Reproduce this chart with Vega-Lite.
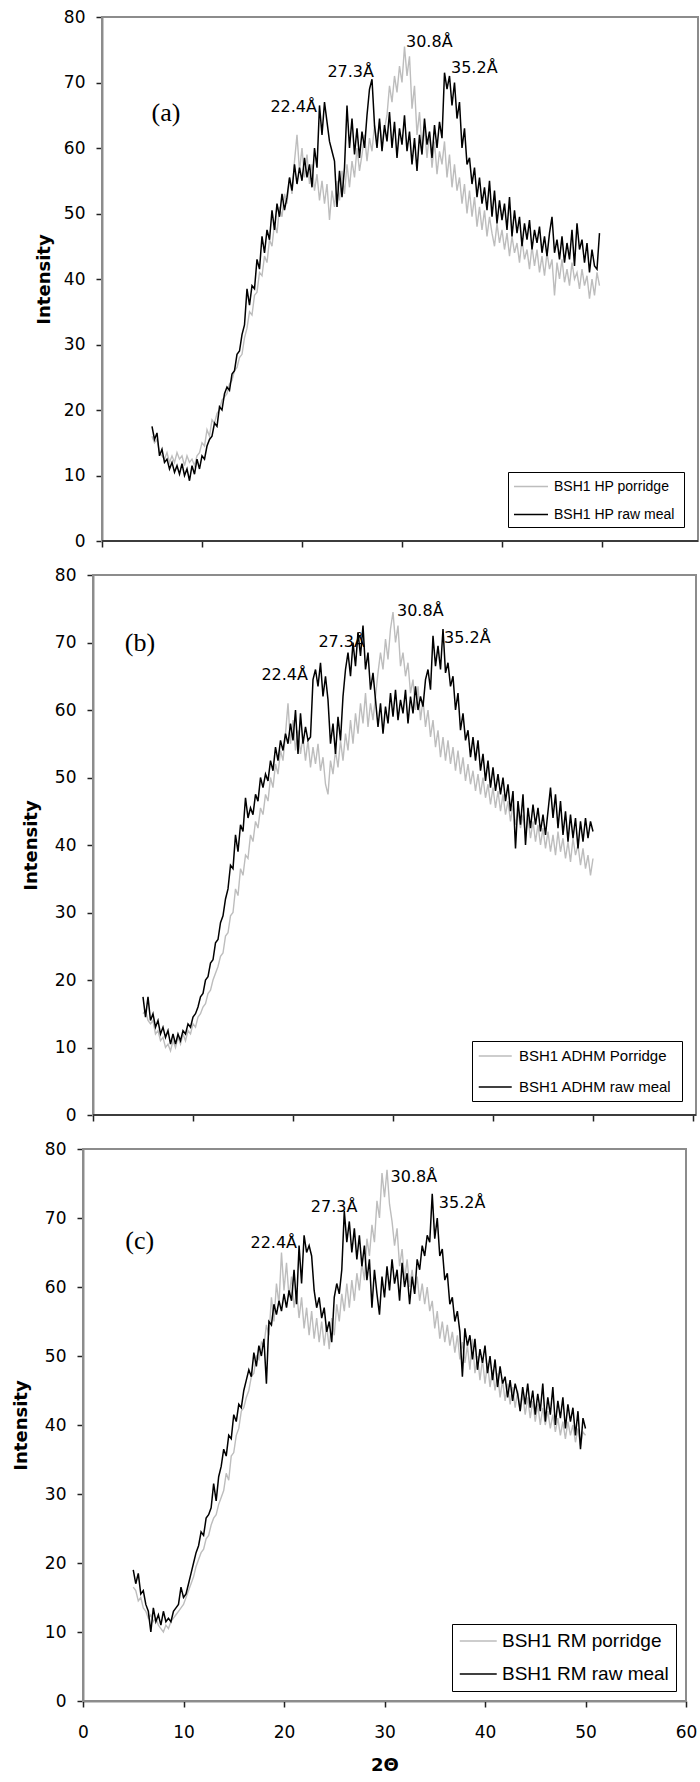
{
"$schema": "https://vega.github.io/schema/vega-lite/v6.json",
"background": "white",
"padding": {"left": 12, "top": 8, "right": 0, "bottom": 0},
"bounds": "flush",
"spacing": 34,
"resolve": {"scale": {"color": "independent", "x": "independent", "y": "independent"}, "legend": {"color": "independent"}},
"config": {
 "view": {"stroke": null},
 "axis": {"grid": false, "labelFont": "DejaVu Sans", "labelFontSize": 17, "labelColor": "#000", "tickColor": "#222", "tickWidth": 1.5, "tickSize": 6, "domainColor": "#222", "domainWidth": 1.5, "titleFont": "DejaVu Sans", "titleFontSize": 18, "titleFontWeight": "bold", "titleColor": "#000", "zindex": 1},
 "axisY": {"labelPadding": 11, "titlePadding": 14},
 "axisX": {"labelPadding": 17, "titlePadding": 16, "labelFlush": false}
},
"datasets": {
"a": [
{"x":5,"p":16,"r":17.5},{"x":5.25,"p":15,"r":15.5},{"x":5.5,"p":15.5,"r":16.5},{"x":5.75,"p":13.5,"r":13},{"x":6,"p":13,"r":14},{"x":6.25,"p":12.5,"r":12},{"x":6.5,"p":13.5,"r":12.5},{"x":6.75,"p":12,"r":11},{"x":7,"p":13,"r":12},{"x":7.25,"p":12,"r":10.5},{"x":7.5,"p":13.5,"r":11.5},{"x":7.75,"p":12.5,"r":10.2},{"x":8,"p":13,"r":11.8},{"x":8.25,"p":11.5,"r":10},{"x":8.5,"p":13,"r":11},{"x":8.75,"p":12,"r":9.2},{"x":9,"p":12.5,"r":11.5},{"x":9.25,"p":11.5,"r":10.2},{"x":9.5,"p":13,"r":12.5},{"x":9.75,"p":13.5,"r":11},
{"x":10,"p":15,"r":13},{"x":10.25,"p":14.5,"r":12.5},{"x":10.5,"p":17,"r":14.5},{"x":10.75,"p":16,"r":15.5},{"x":11,"p":18.5,"r":16},{"x":11.25,"p":18,"r":18},{"x":11.5,"p":19.5,"r":17.5},{"x":11.75,"p":20,"r":20.5},{"x":12,"p":21.5,"r":20},{"x":12.25,"p":22,"r":22.5},{"x":12.5,"p":22.5,"r":23.5},{"x":12.75,"p":24,"r":23},{"x":13,"p":24.5,"r":25.5},{"x":13.25,"p":26,"r":26},{"x":13.5,"p":26.5,"r":28.5},{"x":13.75,"p":28,"r":29},{"x":14,"p":28.5,"r":31.5},{"x":14.25,"p":31,"r":33},{"x":14.5,"p":32.5,"r":38.5},{"x":14.75,"p":35,"r":36},
{"x":15,"p":34.5,"r":39},{"x":15.25,"p":37.5,"r":38.5},{"x":15.5,"p":38,"r":43},{"x":15.75,"p":41,"r":41.5},{"x":16,"p":40.5,"r":46.5},{"x":16.25,"p":43.5,"r":44},{"x":16.5,"p":42.5,"r":47.5},{"x":16.75,"p":46,"r":46},{"x":17,"p":45,"r":50.5},{"x":17.25,"p":48.5,"r":47.5},{"x":17.5,"p":47,"r":51.5},{"x":17.75,"p":51,"r":49.5},{"x":18,"p":49.5,"r":53},{"x":18.25,"p":53,"r":50.5},{"x":18.5,"p":51.5,"r":52.5},{"x":18.75,"p":55.5,"r":55.5},{"x":19,"p":53,"r":53.5},{"x":19.25,"p":58,"r":57.5},{"x":19.5,"p":62,"r":54.5},{"x":19.75,"p":56.5,"r":57},
{"x":20,"p":60,"r":55},{"x":20.25,"p":55.5,"r":58.5},{"x":20.5,"p":59,"r":55.5},{"x":20.75,"p":54.5,"r":57.5},{"x":21,"p":57.5,"r":54},{"x":21.25,"p":53.5,"r":60},{"x":21.5,"p":56,"r":57},{"x":21.75,"p":52,"r":66.5},{"x":22,"p":55,"r":62},{"x":22.25,"p":51.5,"r":67},{"x":22.5,"p":54.5,"r":64},{"x":22.75,"p":49,"r":61},{"x":23,"p":53.5,"r":59.5},{"x":23.25,"p":51,"r":58},{"x":23.5,"p":55,"r":51},{"x":23.75,"p":52,"r":56.5},{"x":24,"p":56.5,"r":52.5},{"x":24.25,"p":53,"r":57},{"x":24.5,"p":57.5,"r":66.5},{"x":24.75,"p":54,"r":60},
{"x":25,"p":58,"r":64.5},{"x":25.25,"p":55.5,"r":59},{"x":25.5,"p":60,"r":63},{"x":25.75,"p":56.5,"r":58.5},{"x":26,"p":59,"r":62.5},{"x":26.25,"p":62,"r":60},{"x":26.5,"p":58,"r":65},{"x":26.75,"p":61.5,"r":69},{"x":27,"p":59.5,"r":70.5},{"x":27.25,"p":63.5,"r":63.5},{"x":27.5,"p":61,"r":60},{"x":27.75,"p":64,"r":64.5},{"x":28,"p":60.5,"r":59.5},{"x":28.25,"p":63,"r":63.5},{"x":28.5,"p":65,"r":61},{"x":28.75,"p":69.5,"r":65.5},{"x":29,"p":67,"r":60},{"x":29.25,"p":71,"r":64},{"x":29.5,"p":68.5,"r":58.5},{"x":29.75,"p":72.5,"r":63},
{"x":30,"p":70,"r":60.5},{"x":30.25,"p":75.5,"r":65},{"x":30.5,"p":71,"r":59.5},{"x":30.75,"p":74,"r":62.5},{"x":31,"p":66,"r":57.5},{"x":31.25,"p":69.5,"r":61.5},{"x":31.5,"p":62,"r":56.5},{"x":31.75,"p":65.5,"r":62},{"x":32,"p":60,"r":59},{"x":32.25,"p":63,"r":64.5},{"x":32.5,"p":58.5,"r":60.5},{"x":32.75,"p":62.5,"r":62.5},{"x":33,"p":57,"r":58.5},{"x":33.25,"p":61,"r":63.5},{"x":33.5,"p":56,"r":60},{"x":33.75,"p":59.5,"r":64},{"x":34,"p":57.5,"r":61.5},{"x":34.25,"p":61,"r":71.5},{"x":34.5,"p":55.5,"r":69},{"x":34.75,"p":59,"r":71},
{"x":35,"p":54,"r":66.5},{"x":35.25,"p":57.5,"r":70},{"x":35.5,"p":53.5,"r":64.5},{"x":35.75,"p":55.5,"r":67},{"x":36,"p":51.5,"r":60},{"x":36.25,"p":54.5,"r":63},{"x":36.5,"p":50,"r":57.5},{"x":36.75,"p":53.5,"r":58.5},{"x":37,"p":49.5,"r":54.5},{"x":37.25,"p":52.5,"r":57},{"x":37.5,"p":48,"r":52.5},{"x":37.75,"p":51,"r":55.5},{"x":38,"p":47.5,"r":51.5},{"x":38.25,"p":50.5,"r":54},{"x":38.5,"p":46.5,"r":50.5},{"x":38.75,"p":49.5,"r":55},{"x":39,"p":47,"r":49.5},{"x":39.25,"p":45,"r":53.5},{"x":39.5,"p":48.5,"r":48.5},{"x":39.75,"p":45.5,"r":52},
{"x":40,"p":47.5,"r":49},{"x":40.25,"p":44.5,"r":51.5},{"x":40.5,"p":47,"r":47.5},{"x":40.75,"p":43.5,"r":52.5},{"x":41,"p":46.5,"r":46.5},{"x":41.25,"p":44,"r":50.5},{"x":41.5,"p":45.5,"r":47},{"x":41.75,"p":42.5,"r":49.5},{"x":42,"p":46,"r":45},{"x":42.25,"p":43,"r":48.5},{"x":42.5,"p":44.5,"r":46},{"x":42.75,"p":41.5,"r":49},{"x":43,"p":45,"r":44.5},{"x":43.25,"p":42,"r":47.5},{"x":43.5,"p":44.5,"r":45.5},{"x":43.75,"p":41,"r":48},{"x":44,"p":43.5,"r":44},{"x":44.25,"p":40.5,"r":46.5},{"x":44.5,"p":44,"r":43.5},{"x":44.75,"p":41.5,"r":47},
{"x":45,"p":43,"r":49.5},{"x":45.25,"p":37.5,"r":44},{"x":45.5,"p":42.5,"r":46},{"x":45.75,"p":40,"r":43},{"x":46,"p":43,"r":46.5},{"x":46.25,"p":39.5,"r":42.5},{"x":46.5,"p":41.5,"r":45.5},{"x":46.75,"p":39,"r":43},{"x":47,"p":42.5,"r":47.5},{"x":47.25,"p":40,"r":42},{"x":47.5,"p":41,"r":48.5},{"x":47.75,"p":38.5,"r":44.5},{"x":48,"p":41.5,"r":46},{"x":48.25,"p":39,"r":42.5},{"x":48.5,"p":40.5,"r":45.5},{"x":48.75,"p":37,"r":41},{"x":49,"p":40,"r":44.5},{"x":49.25,"p":37.5,"r":42},{"x":49.5,"p":41,"r":41.5},{"x":49.75,"p":39,"r":47}
],
"b": [
{"x":5,"p":15,"r":17.5},{"x":5.25,"p":15.5,"r":14.5},{"x":5.5,"p":14,"r":17.5},{"x":5.75,"p":13.5,"r":14},{"x":6,"p":14,"r":15},{"x":6.25,"p":12,"r":13},{"x":6.5,"p":12.5,"r":14},{"x":6.75,"p":11,"r":12},{"x":7,"p":11.5,"r":13},{"x":7.25,"p":10,"r":11.5},{"x":7.5,"p":10.5,"r":12.5},{"x":7.75,"p":9.5,"r":10.5},{"x":8,"p":11,"r":12},{"x":8.25,"p":10,"r":10.5},{"x":8.5,"p":11.5,"r":12},{"x":8.75,"p":10.5,"r":11},{"x":9,"p":12,"r":12.5},{"x":9.25,"p":11,"r":12},{"x":9.5,"p":12.5,"r":13.5},{"x":9.75,"p":12,"r":13},
{"x":10,"p":13.5,"r":14.5},{"x":10.25,"p":13,"r":15},{"x":10.5,"p":14.5,"r":16},{"x":10.75,"p":15,"r":17.5},{"x":11,"p":16,"r":18},{"x":11.25,"p":16.5,"r":20},{"x":11.5,"p":18,"r":20.5},{"x":11.75,"p":18.5,"r":22.5},{"x":12,"p":20,"r":23},{"x":12.25,"p":21,"r":25.5},{"x":12.5,"p":22,"r":26},{"x":12.75,"p":23.5,"r":28.5},{"x":13,"p":24,"r":29.5},{"x":13.25,"p":26.5,"r":32},{"x":13.5,"p":27,"r":33.5},{"x":13.75,"p":29.5,"r":37},{"x":14,"p":30,"r":36.5},{"x":14.25,"p":33.5,"r":41.5},{"x":14.5,"p":32.5,"r":39},{"x":14.75,"p":36.5,"r":43},
{"x":15,"p":35.5,"r":42},{"x":15.25,"p":38.5,"r":47},{"x":15.5,"p":38,"r":44},{"x":15.75,"p":41.5,"r":45.5},{"x":16,"p":40.5,"r":44.5},{"x":16.25,"p":43.5,"r":47.5},{"x":16.5,"p":42.5,"r":46.5},{"x":16.75,"p":45.5,"r":50},{"x":17,"p":44.5,"r":48.5},{"x":17.25,"p":47.5,"r":50.5},{"x":17.5,"p":46.5,"r":49.5},{"x":17.75,"p":50,"r":52.5},{"x":18,"p":48.5,"r":51},{"x":18.25,"p":52,"r":54.5},{"x":18.5,"p":50.5,"r":52.5},{"x":18.75,"p":54,"r":55.5},{"x":19,"p":52.5,"r":54},{"x":19.25,"p":56.5,"r":56.5},{"x":19.5,"p":61,"r":55},{"x":19.75,"p":55,"r":58},
{"x":20,"p":58.5,"r":55.5},{"x":20.25,"p":54,"r":60},{"x":20.5,"p":57,"r":53.5},{"x":20.75,"p":53.5,"r":59.5},{"x":21,"p":56,"r":55},{"x":21.25,"p":52.5,"r":57.5},{"x":21.5,"p":55.5,"r":55.5},{"x":21.75,"p":51.5,"r":56},{"x":22,"p":54.5,"r":64.5},{"x":22.25,"p":52,"r":66},{"x":22.5,"p":55,"r":63.5},{"x":22.75,"p":51,"r":67},{"x":23,"p":53,"r":62},{"x":23.25,"p":49,"r":65},{"x":23.5,"p":47.5,"r":61.5},{"x":23.75,"p":52.5,"r":55},{"x":24,"p":50.5,"r":58},{"x":24.25,"p":54,"r":53.5},{"x":24.5,"p":51.5,"r":59},{"x":24.75,"p":55.5,"r":55.5},
{"x":25,"p":52.5,"r":62},{"x":25.25,"p":56.5,"r":66},{"x":25.5,"p":54,"r":68.5},{"x":25.75,"p":58.5,"r":65},{"x":26,"p":55,"r":70},{"x":26.25,"p":59.5,"r":66.5},{"x":26.5,"p":56.5,"r":71.5},{"x":26.75,"p":61,"r":68},{"x":27,"p":58,"r":72.5},{"x":27.25,"p":62.5,"r":66},{"x":27.5,"p":57.5,"r":68.5},{"x":27.75,"p":61,"r":63},{"x":28,"p":58.5,"r":65.5},{"x":28.25,"p":62,"r":61.5},{"x":28.5,"p":65.5,"r":57.5},{"x":28.75,"p":68.5,"r":61},{"x":29,"p":66,"r":56.5},{"x":29.25,"p":70.5,"r":60.5},{"x":29.5,"p":67.5,"r":58},{"x":29.75,"p":72,"r":62.5},
{"x":30,"p":74.5,"r":59},{"x":30.25,"p":70,"r":63},{"x":30.5,"p":72.5,"r":58.5},{"x":30.75,"p":66.5,"r":61.5},{"x":31,"p":68.5,"r":59.5},{"x":31.25,"p":65,"r":63},{"x":31.5,"p":67,"r":58},{"x":31.75,"p":62.5,"r":62},{"x":32,"p":64.5,"r":59.5},{"x":32.25,"p":60,"r":63.5},{"x":32.5,"p":63.5,"r":60},{"x":32.75,"p":58.5,"r":62},{"x":33,"p":61.5,"r":60.5},{"x":33.25,"p":57.5,"r":64.5},{"x":33.5,"p":60,"r":66},{"x":33.75,"p":56,"r":63},{"x":34,"p":58.5,"r":71},{"x":34.25,"p":54.5,"r":66.5},{"x":34.5,"p":57,"r":69.5},{"x":34.75,"p":53,"r":66},
{"x":35,"p":56,"r":72},{"x":35.25,"p":52.5,"r":65.5},{"x":35.5,"p":55.5,"r":67},{"x":35.75,"p":52,"r":63.5},{"x":36,"p":54.5,"r":65},{"x":36.25,"p":51,"r":60},{"x":36.5,"p":54,"r":62.5},{"x":36.75,"p":50.5,"r":57},{"x":37,"p":53,"r":59.5},{"x":37.25,"p":49.5,"r":55.5},{"x":37.5,"p":52,"r":57},{"x":37.75,"p":49,"r":53},{"x":38,"p":51,"r":56},{"x":38.25,"p":48,"r":52.5},{"x":38.5,"p":50.5,"r":55.5},{"x":38.75,"p":47.5,"r":51},{"x":39,"p":50,"r":53.5},{"x":39.25,"p":47,"r":49.5},{"x":39.5,"p":49,"r":52.5},{"x":39.75,"p":46,"r":48.5},
{"x":40,"p":48.5,"r":51.5},{"x":40.25,"p":45.5,"r":48},{"x":40.5,"p":48,"r":50.5},{"x":40.75,"p":45,"r":47.5},{"x":41,"p":47.5,"r":50},{"x":41.25,"p":44.5,"r":46.5},{"x":41.5,"p":46.5,"r":49},{"x":41.75,"p":43.5,"r":45},{"x":42,"p":46,"r":48},{"x":42.25,"p":43,"r":39.5},{"x":42.5,"p":45,"r":46.5},{"x":42.75,"p":42.5,"r":43},{"x":43,"p":44.5,"r":47.5},{"x":43.25,"p":41.5,"r":40},{"x":43.5,"p":44,"r":45.5},{"x":43.75,"p":41,"r":42.5},{"x":44,"p":43.5,"r":46},{"x":44.25,"p":40.5,"r":43},{"x":44.5,"p":43,"r":45.5},{"x":44.75,"p":40,"r":42},
{"x":45,"p":42.5,"r":44.5},{"x":45.25,"p":39.5,"r":41.5},{"x":45.5,"p":42,"r":45},{"x":45.75,"p":39,"r":48.5},{"x":46,"p":41.5,"r":44},{"x":46.25,"p":38.5,"r":47.5},{"x":46.5,"p":42,"r":42.5},{"x":46.75,"p":39,"r":46.5},{"x":47,"p":41,"r":41.5},{"x":47.25,"p":38,"r":45},{"x":47.5,"p":40.5,"r":40.5},{"x":47.75,"p":37.5,"r":44.5},{"x":48,"p":41,"r":41},{"x":48.25,"p":38.5,"r":44},{"x":48.5,"p":40,"r":39.5},{"x":48.75,"p":37,"r":43.5},{"x":49,"p":39.5,"r":40.5},{"x":49.25,"p":36.5,"r":44},{"x":49.5,"p":38.5,"r":41},{"x":49.75,"p":35.5,"r":43.5},{"x":50,"p":38,"r":42}
],
"c": [
{"x":5,"p":16.5,"r":19},{"x":5.25,"p":16,"r":17},{"x":5.5,"p":14.5,"r":18.5},{"x":5.75,"p":15,"r":15.5},{"x":6,"p":13.5,"r":16},{"x":6.25,"p":13,"r":14},{"x":6.5,"p":12,"r":13},{"x":6.75,"p":12.5,"r":10},{"x":7,"p":11.5,"r":13.5},{"x":7.25,"p":12,"r":11.5},{"x":7.5,"p":11,"r":12.5},{"x":7.75,"p":10.5,"r":11},{"x":8,"p":10,"r":13},{"x":8.25,"p":11,"r":11.5},{"x":8.5,"p":10.5,"r":12},{"x":8.75,"p":11.5,"r":11.5},{"x":9,"p":12,"r":13},{"x":9.25,"p":12.5,"r":13.5},{"x":9.5,"p":13,"r":14},{"x":9.75,"p":13.5,"r":16.5},
{"x":10,"p":14,"r":15},{"x":10.25,"p":15,"r":15.5},{"x":10.5,"p":16,"r":17},{"x":10.75,"p":17,"r":18.5},{"x":11,"p":18,"r":20},{"x":11.25,"p":19.5,"r":21.5},{"x":11.5,"p":20.5,"r":22.5},{"x":11.75,"p":21.5,"r":24.5},{"x":12,"p":22,"r":24},{"x":12.25,"p":23.5,"r":26.5},{"x":12.5,"p":24,"r":27},{"x":12.75,"p":25.5,"r":28},{"x":13,"p":26.5,"r":31.5},{"x":13.25,"p":27,"r":29},{"x":13.5,"p":28.5,"r":32.5},{"x":13.75,"p":29.5,"r":34},{"x":14,"p":30.5,"r":36.5},{"x":14.25,"p":33,"r":35.5},{"x":14.5,"p":32,"r":38.5},{"x":14.75,"p":35.5,"r":38},
{"x":15,"p":36,"r":41.5},{"x":15.25,"p":38.5,"r":40.5},{"x":15.5,"p":39.5,"r":43},{"x":15.75,"p":42,"r":42.5},{"x":16,"p":42.5,"r":45},{"x":16.25,"p":44,"r":46.5},{"x":16.5,"p":45,"r":48},{"x":16.75,"p":47,"r":47},{"x":17,"p":47.5,"r":50.5},{"x":17.25,"p":50,"r":48.5},{"x":17.5,"p":49.5,"r":51.5},{"x":17.75,"p":52,"r":50},{"x":18,"p":51.5,"r":52.5},{"x":18.25,"p":54.5,"r":46},{"x":18.5,"p":53,"r":55},{"x":18.75,"p":58.5,"r":54.5},{"x":19,"p":55,"r":57.5},{"x":19.25,"p":60.5,"r":56},{"x":19.5,"p":57.5,"r":58},{"x":19.75,"p":65,"r":56.5},
{"x":20,"p":59.5,"r":59},{"x":20.25,"p":63.5,"r":57},{"x":20.5,"p":58.5,"r":59.5},{"x":20.75,"p":61.5,"r":58},{"x":21,"p":57,"r":62.5},{"x":21.25,"p":59.5,"r":57.5},{"x":21.5,"p":55.5,"r":66},{"x":21.75,"p":58.5,"r":60.5},{"x":22,"p":54,"r":67.5},{"x":22.25,"p":57,"r":65},{"x":22.5,"p":53,"r":66},{"x":22.75,"p":56.5,"r":64.5},{"x":23,"p":52.5,"r":59.5},{"x":23.25,"p":55.5,"r":57},{"x":23.5,"p":52,"r":58.5},{"x":23.75,"p":55,"r":55.5},{"x":24,"p":51.5,"r":57},{"x":24.25,"p":54.5,"r":53.5},{"x":24.5,"p":51,"r":55},{"x":24.75,"p":55.5,"r":52},
{"x":25,"p":53,"r":58.5},{"x":25.25,"p":57.5,"r":60.5},{"x":25.5,"p":55,"r":59},{"x":25.75,"p":59,"r":62.5},{"x":26,"p":56.5,"r":71},{"x":26.25,"p":60.5,"r":66.5},{"x":26.5,"p":57,"r":69.5},{"x":26.75,"p":61,"r":65},{"x":27,"p":58,"r":68.5},{"x":27.25,"p":62,"r":64},{"x":27.5,"p":59.5,"r":67.5},{"x":27.75,"p":63.5,"r":63},{"x":28,"p":61,"r":66},{"x":28.25,"p":67,"r":61},{"x":28.5,"p":64.5,"r":64},{"x":28.75,"p":69,"r":57},{"x":29,"p":66.5,"r":62.5},{"x":29.25,"p":72.5,"r":59},{"x":29.5,"p":70,"r":56},{"x":29.75,"p":76.5,"r":61.5},
{"x":30,"p":73,"r":58.5},{"x":30.25,"p":77,"r":63},{"x":30.5,"p":72,"r":59.5},{"x":30.75,"p":69.5,"r":64},{"x":31,"p":66,"r":60.5},{"x":31.25,"p":68.5,"r":62.5},{"x":31.5,"p":63,"r":58},{"x":31.75,"p":65.5,"r":63.5},{"x":32,"p":61,"r":60},{"x":32.25,"p":64,"r":62},{"x":32.5,"p":60,"r":57.5},{"x":32.75,"p":62.5,"r":61.5},{"x":33,"p":59,"r":59},{"x":33.25,"p":61.5,"r":64},{"x":33.5,"p":58,"r":62.5},{"x":33.75,"p":60.5,"r":66},{"x":34,"p":57.5,"r":64.5},{"x":34.25,"p":60,"r":67.5},{"x":34.5,"p":56.5,"r":66.5},{"x":34.75,"p":58,"r":73.5},
{"x":35,"p":54,"r":67},{"x":35.25,"p":56.5,"r":70},{"x":35.5,"p":52.5,"r":64.5},{"x":35.75,"p":55,"r":65.5},{"x":36,"p":52,"r":61},{"x":36.25,"p":54.5,"r":62},{"x":36.5,"p":51.5,"r":57.5},{"x":36.75,"p":53.5,"r":58.5},{"x":37,"p":50.5,"r":55},{"x":37.25,"p":53,"r":56.5},{"x":37.5,"p":49.5,"r":53.5},{"x":37.75,"p":52,"r":47},{"x":38,"p":49,"r":54},{"x":38.25,"p":51.5,"r":51.5},{"x":38.5,"p":48,"r":53},{"x":38.75,"p":52.5,"r":49.5},{"x":39,"p":47.5,"r":52.5},{"x":39.25,"p":50,"r":48},{"x":39.5,"p":46.5,"r":51},{"x":39.75,"p":49.5,"r":49},
{"x":40,"p":46,"r":51.5},{"x":40.25,"p":49,"r":47.5},{"x":40.5,"p":45.5,"r":50},{"x":40.75,"p":48,"r":46.5},{"x":41,"p":45,"r":49.5},{"x":41.25,"p":47.5,"r":45.5},{"x":41.5,"p":44,"r":48.5},{"x":41.75,"p":46.5,"r":46},{"x":42,"p":43.5,"r":47},{"x":42.25,"p":46,"r":44},{"x":42.5,"p":43,"r":46.5},{"x":42.75,"p":45.5,"r":43.5},{"x":43,"p":42.5,"r":46},{"x":43.25,"p":45,"r":44.5},{"x":43.5,"p":42,"r":42},{"x":43.75,"p":44.5,"r":45.5},{"x":44,"p":41.5,"r":43},{"x":44.25,"p":44,"r":46},{"x":44.5,"p":41,"r":42.5},{"x":44.75,"p":43.5,"r":45},
{"x":45,"p":40.5,"r":41.5},{"x":45.25,"p":43,"r":44.5},{"x":45.5,"p":40,"r":42},{"x":45.75,"p":42.5,"r":46},{"x":46,"p":40,"r":40.5},{"x":46.25,"p":42,"r":44},{"x":46.5,"p":39.5,"r":41.5},{"x":46.75,"p":41.5,"r":45.5},{"x":47,"p":39,"r":40},{"x":47.25,"p":41,"r":43.5},{"x":47.5,"p":38.5,"r":41},{"x":47.75,"p":40.5,"r":44},{"x":48,"p":38,"r":39.5},{"x":48.25,"p":40.5,"r":43},{"x":48.5,"p":38.5,"r":40.5},{"x":48.75,"p":40,"r":42.5},{"x":49,"p":37.5,"r":38.5},{"x":49.25,"p":39.5,"r":42},{"x":49.5,"p":37,"r":36.5},{"x":49.75,"p":39,"r":41},{"x":50,"p":38.5,"r":39.5}
]
},
"vconcat": [
{
 "width": 615, "height": 524,
 "layer": [
  {"data": {"values": [{}]}, "mark": {"type": "rect", "fillOpacity": 0, "stroke": "#8c8c8c", "strokeWidth": 2},
   "encoding": {"x": {"datum": 0, "type": "quantitative"}, "x2": {"datum": 59.6}, "y": {"datum": 0, "type": "quantitative"}, "y2": {"datum": 80}}},
  {"data": {"values": [{}]}, "mark": {"type": "rule", "color": "#222", "strokeWidth": 1.5},
   "encoding": {"x": {"datum": 0, "type": "quantitative"}, "x2": {"datum": 59.6}, "y": {"datum": 0, "type": "quantitative"}}},
  {"data": {"name": "a"}, "mark": {"type": "line", "strokeWidth": 1.4},
   "encoding": {
    "x": {"field": "x", "type": "quantitative", "scale": {"domain": [-1.9, 59.6], "nice": false, "zero": false}, "axis": {"values": [0, 10, 20, 30, 40, 50], "labels": false, "domain": false, "title": null}},
    "y": {"field": "p", "type": "quantitative", "scale": {"domain": [0, 80], "nice": false}, "axis": {"values": [0, 10, 20, 30, 40, 50, 60, 70, 80], "offset": -19, "title": "Intensity", "titlePadding": 10}},
    "color": {"datum": "BSH1 HP porridge", "scale": {"domain": ["BSH1 HP porridge", "BSH1 HP raw  meal"], "range": ["#bdbdbd", "#000000"]},
     "legend": {"title": null, "orient": "bottom-right", "offset": 14, "strokeColor": "#000", "fillColor": "#fff", "padding": 5, "symbolType": "M-1,0H3", "symbolSize": 289, "symbolStrokeWidth": 1.5, "labelFont": "Liberation Sans", "labelFontSize": 14, "labelColor": "#000", "labelOffset": 22, "rowPadding": 11, "labelLimit": 300}}
   }},
  {"data": {"name": "a"}, "mark": {"type": "line", "strokeWidth": 1.5},
   "encoding": {"x": {"field": "x", "type": "quantitative"}, "y": {"field": "r", "type": "quantitative"}, "color": {"datum": "BSH1 HP raw  meal"}}},
  {"data": {"values": [{"t": "22.4Å", "x": 21.5, "y": 66.3}, {"t": "27.3Å", "x": 27.2, "y": 71.6}]},
   "mark": {"type": "text", "align": "right", "font": "DejaVu Sans", "fontSize": 16, "color": "#000"},
   "encoding": {"x": {"field": "x", "type": "quantitative"}, "y": {"field": "y", "type": "quantitative"}, "text": {"field": "t"}}},
  {"data": {"values": [{"t": "30.8Å", "x": 30.4, "y": 76.2}, {"t": "35.2Å", "x": 34.9, "y": 72.2}]},
   "mark": {"type": "text", "align": "left", "font": "DejaVu Sans", "fontSize": 16, "color": "#000"},
   "encoding": {"x": {"field": "x", "type": "quantitative"}, "y": {"field": "y", "type": "quantitative"}, "text": {"field": "t"}}},
  {"data": {"values": [{"t": "(a)", "x": 6.4, "y": 65.3}]},
   "mark": {"type": "text", "font": "Liberation Serif", "fontSize": 26, "color": "#000"},
   "encoding": {"x": {"field": "x", "type": "quantitative"}, "y": {"field": "y", "type": "quantitative"}, "text": {"field": "t"}}}
 ]
},
{
 "width": 613, "height": 540,
 "layer": [
  {"data": {"values": [{}]}, "mark": {"type": "rect", "fillOpacity": 0, "stroke": "#8c8c8c", "strokeWidth": 2},
   "encoding": {"x": {"datum": 0, "type": "quantitative"}, "x2": {"datum": 60.3}, "y": {"datum": 0, "type": "quantitative"}, "y2": {"datum": 80}}},
  {"data": {"values": [{}]}, "mark": {"type": "rule", "color": "#222", "strokeWidth": 1.5},
   "encoding": {"x": {"datum": 0, "type": "quantitative"}, "x2": {"datum": 60.3}, "y": {"datum": 0, "type": "quantitative"}}},
  {"data": {"name": "b"}, "mark": {"type": "line", "strokeWidth": 1.4},
   "encoding": {
    "x": {"field": "x", "type": "quantitative", "scale": {"domain": [-1.0, 60.3], "nice": false, "zero": false}, "axis": {"values": [0, 10, 20, 30, 40, 50, 60], "labels": false, "domain": false, "title": null}},
    "y": {"field": "p", "type": "quantitative", "scale": {"domain": [0, 80], "nice": false}, "axis": {"values": [0, 10, 20, 30, 40, 50, 60, 70, 80], "offset": -10, "title": "Intensity"}},
    "color": {"datum": "BSH1 ADHM Porridge", "scale": {"domain": ["BSH1 ADHM Porridge", "BSH1 ADHM raw  meal"], "range": ["#bdbdbd", "#000000"]},
     "legend": {"title": null, "orient": "bottom-right", "offset": 14, "strokeColor": "#000", "fillColor": "#fff", "padding": 6, "symbolType": "M-1,0H3", "symbolSize": 272, "symbolStrokeWidth": 1.5, "labelFont": "Liberation Sans", "labelFontSize": 15, "labelColor": "#000", "labelOffset": 23, "rowPadding": 14, "labelLimit": 300}}
   }},
  {"data": {"name": "b"}, "mark": {"type": "line", "strokeWidth": 1.5},
   "encoding": {"x": {"field": "x", "type": "quantitative"}, "y": {"field": "r", "type": "quantitative"}, "color": {"datum": "BSH1 ADHM raw  meal"}}},
  {"data": {"values": [{"t": "22.4Å", "x": 21.5, "y": 65.2}, {"t": "27.3Å", "x": 27.2, "y": 70.1}]},
   "mark": {"type": "text", "align": "right", "font": "DejaVu Sans", "fontSize": 16, "color": "#000"},
   "encoding": {"x": {"field": "x", "type": "quantitative"}, "y": {"field": "y", "type": "quantitative"}, "text": {"field": "t"}}},
  {"data": {"values": [{"t": "30.8Å", "x": 30.4, "y": 74.6}, {"t": "35.2Å", "x": 35.1, "y": 70.6}]},
   "mark": {"type": "text", "align": "left", "font": "DejaVu Sans", "fontSize": 16, "color": "#000"},
   "encoding": {"x": {"field": "x", "type": "quantitative"}, "y": {"field": "y", "type": "quantitative"}, "text": {"field": "t"}}},
  {"data": {"values": [{"t": "(b)", "x": 4.7, "y": 69.9}]},
   "mark": {"type": "text", "font": "Liberation Serif", "fontSize": 26, "color": "#000"},
   "encoding": {"x": {"field": "x", "type": "quantitative"}, "y": {"field": "y", "type": "quantitative"}, "text": {"field": "t"}}}
 ]
},
{
 "width": 603, "height": 552,
 "layer": [
  {"data": {"values": [{}]}, "mark": {"type": "rect", "fillOpacity": 0, "stroke": "#8c8c8c", "strokeWidth": 2},
   "encoding": {"x": {"datum": 0, "type": "quantitative"}, "x2": {"datum": 60}, "y": {"datum": 0, "type": "quantitative"}, "y2": {"datum": 80}}},
  {"data": {"name": "c"}, "mark": {"type": "line", "strokeWidth": 1.4},
   "encoding": {
    "x": {"field": "x", "type": "quantitative", "scale": {"domain": [0, 60], "nice": false, "zero": false}, "axis": {"values": [0, 10, 20, 30, 40, 50, 60], "title": "2Θ"}},
    "y": {"field": "p", "type": "quantitative", "scale": {"domain": [0, 80], "nice": false}, "axis": {"values": [0, 10, 20, 30, 40, 50, 60, 70, 80], "title": "Intensity"}},
    "color": {"datum": "BSH1 RM porridge", "scale": {"domain": ["BSH1 RM porridge", "BSH1 RM raw meal"], "range": ["#bdbdbd", "#000000"]},
     "legend": {"title": null, "orient": "bottom-right", "offset": 10, "strokeColor": "#000", "fillColor": "#fff", "padding": 7, "symbolType": "M-1,0H3", "symbolSize": 342, "symbolStrokeWidth": 1.5, "labelFont": "Liberation Sans", "labelFontSize": 19, "labelColor": "#000", "labelOffset": 23, "rowPadding": 13, "labelLimit": 300}}
   }},
  {"data": {"name": "c"}, "mark": {"type": "line", "strokeWidth": 1.5},
   "encoding": {"x": {"field": "x", "type": "quantitative"}, "y": {"field": "r", "type": "quantitative"}, "color": {"datum": "BSH1 RM raw meal"}}},
  {"data": {"values": [{"t": "22.4Å", "x": 21.3, "y": 66.4}, {"t": "27.3Å", "x": 27.3, "y": 71.6}]},
   "mark": {"type": "text", "align": "right", "font": "DejaVu Sans", "fontSize": 16, "color": "#000"},
   "encoding": {"x": {"field": "x", "type": "quantitative"}, "y": {"field": "y", "type": "quantitative"}, "text": {"field": "t"}}},
  {"data": {"values": [{"t": "30.8Å", "x": 30.6, "y": 76}, {"t": "35.2Å", "x": 35.4, "y": 72.2}]},
   "mark": {"type": "text", "align": "left", "font": "DejaVu Sans", "fontSize": 16, "color": "#000"},
   "encoding": {"x": {"field": "x", "type": "quantitative"}, "y": {"field": "y", "type": "quantitative"}, "text": {"field": "t"}}},
  {"data": {"values": [{"t": "(c)", "x": 5.65, "y": 66.6}]},
   "mark": {"type": "text", "font": "Liberation Serif", "fontSize": 26, "color": "#000"},
   "encoding": {"x": {"field": "x", "type": "quantitative"}, "y": {"field": "y", "type": "quantitative"}, "text": {"field": "t"}}}
 ]
}
]
}
